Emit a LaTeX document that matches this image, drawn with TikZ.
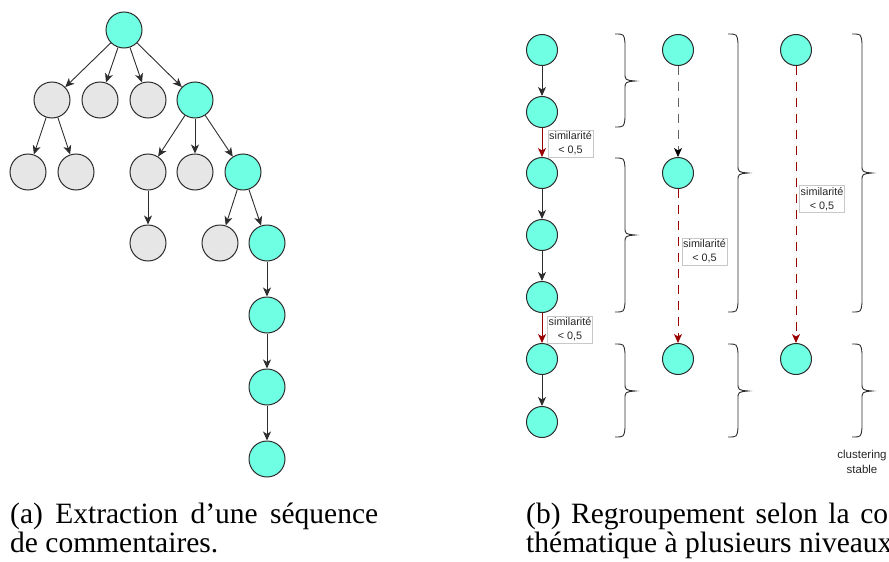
\documentclass[tikz,border=0pt]{standalone}
\usepackage{fontspec}
\setmainfont{Liberation Serif}
\newfontfamily\labelfont{Liberation Sans}
\usetikzlibrary{arrows.meta}

\definecolor{aqua}{RGB}{111,255,226}
\definecolor{nodegray}{RGB}{230,230,230}
\definecolor{edge}{RGB}{45,45,45}
\definecolor{midgray}{RGB}{100,100,100}
\definecolor{simred}{RGB}{153,0,0}
\definecolor{boxgray}{RGB}{200,200,200}

% curly brace opening to the left: left x, top y, tip y, bottom y
\newcommand{\curlybrace}[4]{%
  \draw[bracestyle] (#1,#2) .. controls (#1+9,#2) .. (#1+10,#2+9)
    -- (#1+10,#3-8) .. controls (#1+10,#3-1) .. (#1+20,#3)
    .. controls (#1+10,#3+1) .. (#1+10,#3+8)
    -- (#1+10,#4-9) .. controls (#1+9,#4) .. (#1,#4);}

\begin{document}
\begin{tikzpicture}[x=1pt,y=-1pt,
  tipshape/.style={-{Stealth[length=9pt,width=8pt,inset=2.5pt]}},
  kept/.style={circle, draw=edge, line width=1pt, fill=aqua,
    minimum size=36pt, inner sep=0pt},
  dropped/.style={kept, fill=nodegray},
  msg/.style={kept, minimum size=31pt},
  link/.style={draw=edge, line width=0.9pt, tipshape},
  cutlink/.style={draw=simred, line width=0.9pt, tipshape},
  dashlink/.style={dash pattern=on 9pt off 7pt},
  bracestyle/.style={draw=edge, line width=0.9pt},
  simlabel/.style={draw=boxgray, fill=white, line width=0.6pt,
    align=center, inner sep=1pt, minimum width=45pt, minimum height=27pt,
    font=\labelfont\fontsize{10.8}{14}\selectfont, text=black!85},
  note/.style={align=center, inner sep=0pt,
    font=\labelfont\fontsize{11.5}{15}\selectfont, text=black!85},
  caption/.style={inner sep=0pt, font=\fontsize{29.5}{30}\selectfont}]
\useasboundingbox (0,0) rectangle (889,562);

% ---------- (a) comment tree ----------
\node[kept]    (r)  at (124,30)  {};
\node[dropped] (a1) at (52,100)  {};
\node[dropped] (a2) at (100,100) {};
\node[dropped] (a3) at (148,100) {};
\node[kept]    (a4) at (195,100) {};
\node[dropped] (b1) at (28,172)  {};
\node[dropped] (b2) at (76,172)  {};
\node[dropped] (b3) at (148,172) {};
\node[dropped] (b4) at (195,172) {};
\node[kept]    (b5) at (243,172) {};
\node[dropped] (c1) at (148,243) {};
\node[dropped] (c2) at (220,243) {};
\node[kept]    (c3) at (267,243) {};
\node[kept]    (d1) at (267,315) {};
\node[kept]    (d2) at (267,387) {};
\node[kept]    (d3) at (267,459) {};

\foreach \u/\v in {r/a1, r/a2, r/a3, r/a4, a1/b1, a1/b2, a4/b3, a4/b4,
                   a4/b5, b3/c1, b5/c2, b5/c3, c3/d1, d1/d2, d2/d3}
  \draw[link] (\u) -- (\v);

% ---------- (b) multi-level grouping ----------
% level 1
\node[msg] (p1) at (542,50)  {};
\node[msg] (p2) at (542,112) {};
\node[msg] (p3) at (542,173) {};
\node[msg] (p4) at (542,235) {};
\node[msg] (p5) at (542,297) {};
\node[msg] (p6) at (542,359) {};
\node[msg] (p7) at (542,422) {};

\draw[link] (p1) -- (p2);
\draw[cutlink] (p2) -- (p3);
\draw[link] (p3) -- (p4);
\draw[link] (p4) -- (p5);
\draw[cutlink] (p5) -- (p6);
\draw[link] (p6) -- (p7);

\node[simlabel] (l1) at (570.5,143.5) {similarité\\< 0,5};
\node[simlabel] (l2) at (570,329.5) {similarité\\< 0,5};

% level 2
\node[msg] (q1) at (678,50)  {};
\node[msg] (q2) at (678,173) {};
\node[msg] (q3) at (678,359) {};

\draw[link, draw=midgray, dashlink,
  -{Stealth[length=9pt,width=8pt,inset=2.5pt,color=black]}] (q1) -- (q2);
\draw[cutlink, dashlink] (q2) -- (q3);
\node[simlabel] (l3) at (704.5,251.5) {similarité\\< 0,5};

% level 3
\node[msg] (s1) at (796,50)  {};
\node[msg] (s2) at (796,359) {};

\draw[cutlink, dashlink] (s1) -- (s2);
\node[simlabel] (l4) at (822,199) {similarité\\< 0,5};

% braces marking the groups
\curlybrace{615}{34}{81}{127}
\curlybrace{615}{158}{235}{312}
\curlybrace{615}{344}{391}{437}
\curlybrace{728}{34}{173}{312}
\curlybrace{728}{344}{391}{437}
\curlybrace{852}{34}{173}{312}
\curlybrace{852}{344}{391}{437}

\node[note] (stable) at (862,462) {clustering\\stable};

% ---------- captions ----------
\node[caption, anchor=base west] (capa1) at (10,523)
  {\makebox[368pt][s]{(a) Extraction d’une séquence}};
\node[caption, anchor=base west] (capa2) at (10,552) {de commentaires.};
\node[caption, anchor=base west] (capb1) at (526,523)
  {\makebox[362pt][s]{(b) Regroupement selon la co}};
\node[caption, anchor=base west] (capb2) at (526,552)
  {thématique à plusieurs niveaux};
\end{tikzpicture}
\end{document}
